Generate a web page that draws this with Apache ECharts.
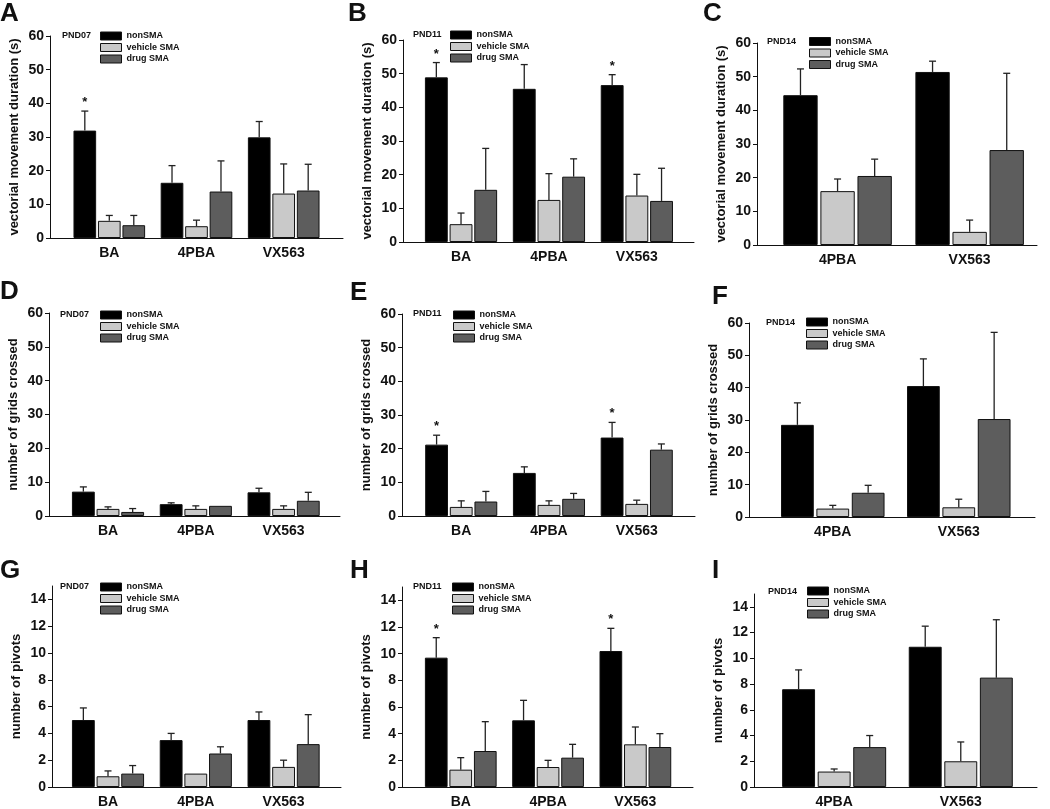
<!DOCTYPE html>
<html>
<head>
<meta charset="utf-8">
<script src="https://cdn.jsdelivr.net/npm/echarts@6.0.0/dist/echarts.min.js"></script>
<style>
  html, body { margin: 0; padding: 0; background: #fff; }
  #main { width: 1050px; height: 809px; }
</style>
</head>
<body>
<div id="main"></div>
<script>
  // categories / labels
  var cats3 = ['BA', '4PBA', 'VX563'];
  var cats2 = ['4PBA', 'VX563'];
  var seriesNames = ['nonSMA', 'vehicle SMA', 'drug SMA'];
  var ticks60 = [0, 10, 20, 30, 40, 50, 60];
  var ticks15 = [0, 2, 4, 6, 8, 10, 12, 14];
  var yNames = ['vectorial movement duration (s)', 'number of grids crossed', 'number of pivots'];

  // rows: nonSMA, vehicle SMA, drug SMA ; columns: categories
  var A_mean = [[31.9, 16.4, 29.9], [5.1, 3.5, 13.2], [3.8, 13.8, 14.1]];
  var A_sem  = [[5.8, 5.1, 4.7], [1.6, 1.8, 8.8], [2.9, 9.1, 7.8]];
  var A_star = [1, 0, 0];

  var B_mean = [[48.9, 45.5, 46.6], [5.3, 12.5, 13.8], [15.5, 19.4, 12.2]];
  var B_sem  = [[4.4, 7.2, 3.1], [3.3, 7.8, 6.3], [12.3, 5.3, 9.7]];
  var B_star = [1, 0, 1];

  var C_mean = [[44.5, 51.4], [16.0, 3.9], [20.5, 28.2]];
  var C_sem  = [[7.8, 3.2], [3.6, 3.5], [5.0, 22.8]];
  var C_star = [0, 0];

  var D_mean = [[7.2, 3.5, 7.0], [2.1, 2.1, 2.1], [1.2, 3.0, 4.5]];
  var D_sem  = [[1.4, 0.4, 1.2], [0.6, 0.9, 0.9], [1.0, 0, 2.5]];
  var D_star = [0, 0, 0];

  var E_mean = [[21.2, 12.8, 23.3], [2.7, 3.3, 3.6], [4.3, 5.1, 19.7]];
  var E_sem  = [[2.8, 1.8, 4.5], [1.8, 1.2, 1.1], [3.0, 1.6, 1.7]];
  var E_star = [1, 0, 1];

  var F_mean = [[28.5, 40.5], [2.6, 3.0], [7.5, 30.3]];
  var F_sem  = [[6.8, 8.4], [1.0, 2.5], [2.3, 26.8]];
  var F_star = [0, 0];

  var G_mean = [[5.0, 3.5, 5.0], [0.8, 1.0, 1.5], [1.0, 2.5, 3.2]];
  var G_sem  = [[0.9, 0.5, 0.6], [0.4, 0, 0.5], [0.6, 0.5, 2.2]];
  var G_star = [0, 0, 0];

  var H_mean = [[9.7, 5.0, 10.2], [1.3, 1.5, 3.2], [2.7, 2.2, 3.0]];
  var H_sem  = [[1.5, 1.5, 1.7], [0.9, 0.5, 1.3], [2.2, 1.0, 1.0]];
  var H_star = [1, 0, 1];

  var I_mean = [[7.6, 10.9], [1.2, 2.0], [3.1, 8.5]];
  var I_sem  = [[1.5, 1.6], [0.2, 1.5], [0.9, 4.5]];
  var I_star = [0, 0];

  var FONT = '"Liberation Sans", Arial, Helvetica, sans-serif';
  var INK = '#111';
  var barColors = ['#000000', '#c9c9c9', '#5d5d5d'];
  var BAR_W = 0.26, BAR_GAP = 0.08;

  // layout of the 9 panels (grid: left, top, width, height)
  var panels = [
    {key: 'A', cats: cats3, mean: A_mean, sem: A_sem, star: A_star, pnd: 'PND07', yName: yNames[0], yMax: 60, ticks: ticks60,
     grid: [50, 36, 293, 202], xr: [-0.68, 2.68], letter: [0, 1], legend: [100, 31.5], pndPos: [62, 31]},
    {key: 'B', cats: cats3, mean: B_mean, sem: B_sem, star: B_star, pnd: 'PND11', yName: yNames[0], yMax: 60, ticks: ticks60,
     grid: [403, 40, 291, 202], xr: [-0.66, 2.65], letter: [348, 1], legend: [450, 30.5], pndPos: [413, 30]},
    {key: 'C', cats: cats2, mean: C_mean, sem: C_sem, star: C_star, pnd: 'PND14', yName: yNames[0], yMax: 60, ticks: ticks60,
     grid: [757, 43, 280, 202], xr: [-0.61, 1.51], letter: [703, 1], legend: [809, 37], pndPos: [767, 37]},
    {key: 'D', cats: cats3, mean: D_mean, sem: D_sem, star: D_star, pnd: 'PND07', yName: yNames[1], yMax: 60, ticks: ticks60,
     grid: [49, 313, 291, 203], xr: [-0.672, 2.642], letter: [0, 279], legend: [100, 310.5], pndPos: [60, 310]},
    {key: 'E', cats: cats3, mean: E_mean, sem: E_sem, star: E_star, pnd: 'PND11', yName: yNames[1], yMax: 60, ticks: ticks60,
     grid: [402, 314, 293, 202], xr: [-0.675, 2.664], letter: [350, 280], legend: [453, 310.5], pndPos: [413, 309]},
    {key: 'F', cats: cats2, mean: F_mean, sem: F_sem, star: F_star, pnd: 'PND14', yName: yNames[1], yMax: 60, ticks: ticks60,
     grid: [749, 323, 286, 194], xr: [-0.665, 1.605], letter: [712, 284], legend: [806, 317.5], pndPos: [766, 318]},
    {key: 'G', cats: cats3, mean: G_mean, sem: G_sem, star: G_star, pnd: 'PND07', yName: yNames[2], yMax: 15, ticks: ticks15,
     grid: [52, 586, 289, 203], xr: [-0.638, 2.654], letter: [0, 558], legend: [100, 582.5], pndPos: [60, 582]},
    {key: 'H', cats: cats3, mean: H_mean, sem: H_sem, star: H_star, pnd: 'PND11', yName: yNames[2], yMax: 15, ticks: ticks15,
     grid: [402, 587, 291, 204], xr: [-0.673, 2.66], letter: [350, 558], legend: [452, 582.5], pndPos: [413, 582]},
    {key: 'I', cats: cats2, mean: I_mean, sem: I_sem, star: I_star, pnd: 'PND14', yName: yNames[2], yMax: 15, ticks: ticks15,
     grid: [754, 594, 283, 193], xr: [-0.633, 1.602], letter: [712, 558], legend: [807, 586.5], pndPos: [768, 587]}
  ];

  // error bar (upward only) + significance star, positioned on the bar slot
  function renderErr(params, api) {
    var k = api.value(0), m = api.value(1), e = api.value(2), s = api.value(3), st = api.value(4);
    var unit = api.size([1, 0])[0];
    var w = unit * BAR_W;
    var x = api.coord([k, m])[0] + (s - 1) * w * (1 + BAR_GAP);
    var y0 = api.coord([k, m])[1];
    var y1 = api.coord([k, m + e])[1];
    var cap = 3.5;
    var children = [];
    if (e > 0) {
      children.push({type: 'line', shape: {x1: x, y1: y0, x2: x, y2: y1}, style: {stroke: '#222', lineWidth: 1.3}});
      children.push({type: 'line', shape: {x1: x - cap, y1: y1, x2: x + cap, y2: y1}, style: {stroke: '#222', lineWidth: 1.3}});
    }
    if (st) {
      children.push({type: 'text', x: x, y: y1 - 2,
        style: {text: '*', fontSize: 13, fontWeight: 'bold', fontFamily: FONT, fill: INK, align: 'center', verticalAlign: 'bottom'}});
    }
    return {type: 'group', children: children};
  }

  var titles = [], legends = [], grids = [], xAxes = [], yAxes = [], series = [];
  var lineStyle = {color: INK, width: 1};

  panels.forEach(function (p, i) {
    titles.push({text: p.key, left: p.letter[0], top: p.letter[1], padding: 0,
      textStyle: {fontSize: 26, fontWeight: 'bold', fontFamily: FONT, color: INK}});
    titles.push({text: p.pnd, left: p.pndPos[0], top: p.pndPos[1], padding: 0,
      textStyle: {fontSize: 9, fontWeight: 'bold', fontFamily: FONT, color: INK}});
    legends.push({
      orient: 'vertical', left: p.legend[0], top: p.legend[1], padding: 0,
      itemWidth: 21, itemHeight: 8, itemGap: 2.5, icon: 'rect', selectedMode: false,
      data: seriesNames,
      itemStyle: {borderColor: INK, borderWidth: 1},
      textStyle: {fontSize: 9, lineHeight: 9, fontWeight: 'bold', fontFamily: FONT, color: INK}
    });
    grids.push({left: p.grid[0], top: p.grid[1], width: p.grid[2], height: p.grid[3], containLabel: false});
    xAxes.push({
      type: 'value', gridIndex: i, min: p.xr[0], max: p.xr[1],
      axisLine: {show: true, onZero: false, lineStyle: lineStyle},
      axisTick: {show: false},
      splitLine: {show: false},
      axisLabel: {
        customValues: p.cats.map(function (c, k) { return k; }),
        formatter: function (v) { return p.cats[Math.round(v)]; },
        margin: 8, fontSize: 14, fontWeight: 'bold', fontFamily: FONT, color: INK
      }
    });
    yAxes.push({
      type: 'value', gridIndex: i, min: 0, max: p.yMax,
      name: p.yName, nameLocation: 'middle', nameGap: 29,
      nameTextStyle: {fontSize: 13, fontWeight: 'bold', fontFamily: FONT, color: INK},
      axisLine: {show: true, onZero: false, lineStyle: lineStyle},
      axisTick: {show: true, length: 4, lineStyle: lineStyle, customValues: p.ticks},
      splitLine: {show: false},
      axisLabel: {customValues: p.ticks, margin: 6, fontSize: 14, fontWeight: 'bold', fontFamily: FONT, color: INK}
    });
    var errData = [];
    seriesNames.forEach(function (name, s) {
      series.push({
        type: 'bar', name: name, xAxisIndex: i, yAxisIndex: i,
        barWidth: (BAR_W * 100) + '%', barGap: (BAR_GAP * 100) + '%',
        data: p.cats.map(function (c, k) { return [k, p.mean[s][k]]; }),
        itemStyle: {color: barColors[s], borderColor: INK, borderWidth: 1}
      });
      p.cats.forEach(function (c, k) {
        errData.push([k, p.mean[s][k], p.sem[s][k], s, s === 0 ? p.star[k] : 0]);
      });
    });
    series.push({
      type: 'custom', xAxisIndex: i, yAxisIndex: i, z: 5,
      dimensions: ['x', 'mean', 'sem', 'grp', 'star'],
      encode: {x: 'x', y: 'mean'},
      renderItem: renderErr,
      data: errData
    });
  });

  var chart = echarts.init(document.getElementById('main'));
  chart.setOption({
    animation: false,
    backgroundColor: '#fff',
    title: titles,
    legend: legends,
    grid: grids,
    xAxis: xAxes,
    yAxis: yAxes,
    tooltip: {show: false},
    series: series
  });
</script>
</body>
</html>
